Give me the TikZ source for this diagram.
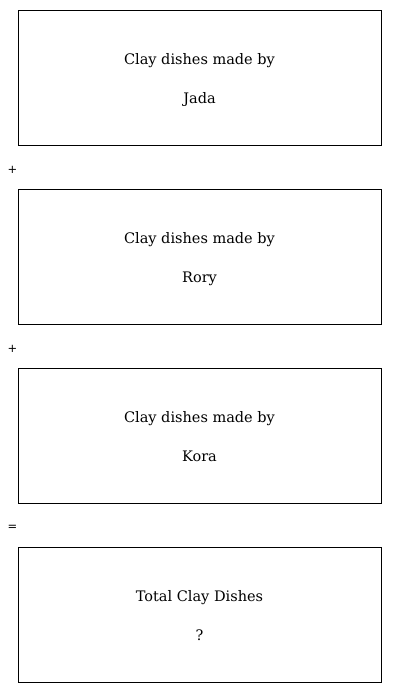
\documentclass[tikz,border=0pt]{standalone}
\usepackage{fontspec}
\setmainfont{DejaVu Serif}
\setsansfont{DejaVu Sans}
\usetikzlibrary{positioning}
\newcommand{\twolines}[2]{\rule{0pt}{17.5pt}#1\\#2\rule[-4pt]{0pt}{0pt}}
\tikzset{
  part/.style={draw=black,line width=0.9pt,minimum width=363pt,minimum height=135pt,
    align=center,inner sep=0pt,font=\fontsize{14.5}{39}\selectfont},
  sign/.style={inner sep=0pt,font=\sffamily\fontsize{11.5}{13}\selectfont},
}
\begin{document}
\begin{tikzpicture}[x=1pt,y=-1pt]
    \useasboundingbox (0,0) rectangle (400,693);

    \node[part] (jada) at (199.5,77.5) {\twolines{Clay dishes made by}{Jada}};
    \node[part] (rory) at (199.5,256.5) {\twolines{Clay dishes made by}{Rory}};
    \node[part] (kora) at (199.5,435.5) {\twolines{Clay dishes made by}{Kora}};
    \node[part] (total) at (199.5,614.5) {\twolines{Total Clay Dishes}{?}};

    \node[sign] (plusa) at (12.5,169.5) {+};
    \node[sign] (plusb) at (12.5,348.5) {+};
    \node[sign] (equal) at (12.5,527.5) {=};
  \end{tikzpicture}
\end{document}
